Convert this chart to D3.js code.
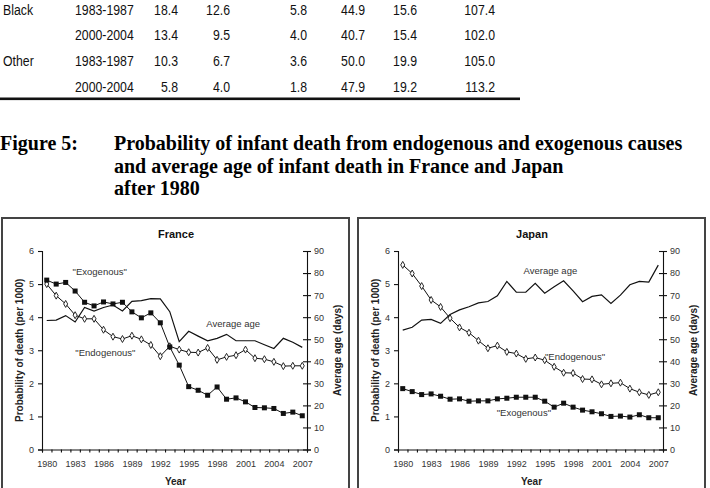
<!DOCTYPE html>
<html lang="en">
<head>
<meta charset="UTF-8">
<title>Figure 5</title>
<script src="https://d3js.org/d3.v7.min.js"></script>
<style>
  body { margin: 0; background: #fff; }
  svg { position: absolute; top: 0; left: 0; }
  .tbl { font-family: 'Liberation Sans', Arial, sans-serif; font-size: 15px; fill: #111; }
  .cap { font-family: 'Liberation Serif', 'Times New Roman', serif; font-weight: bold; font-size: 20px; fill: #000; }
  .tick text { font-family: 'Liberation Sans', Arial, sans-serif; font-size: 9px; fill: #333; }
  .ttl { font-family: 'Liberation Sans', Arial, sans-serif; font-weight: bold; font-size: 11px; fill: #111; }
  .alab { font-family: 'Liberation Sans', Arial, sans-serif; font-weight: bold; font-size: 10px; fill: #222; }
  .note { font-family: 'Liberation Sans', Arial, sans-serif; font-size: 9.5px; fill: #333; }
</style>
</head>
<body>
<script>
const width = 710;
const height = 488;

// table fragment
const tableGroups  = ["Black", "", "Other", ""];
const tablePeriods = ["1983-1987", "2000-2004", "1983-1987", "2000-2004"];
const tableValues  = [
  [18.4, 12.6, 5.8, 44.9, 15.6, 107.4],
  [13.4,  9.5, 4.0, 40.7, 15.4, 102.0],
  [10.3,  6.7, 3.6, 50.0, 19.9, 105.0],
  [ 5.8,  4.0, 1.8, 47.9, 19.2, 113.2]
];

const captionLines = [
  "Probability of infant death from endogenous and exogenous causes",
  "and average age of infant death in France and Japan",
  "after 1980"
];

// chart data
const years = d3.range(1980, 2008);
const yearLabels = [1980, 1983, 1986, 1989, 1992, 1995, 1998, 2001, 2004, 2007];
const probTicks = [0, 1, 2, 3, 4, 5, 6];
const ageTicks = [0, 10, 20, 30, 40, 50, 60, 70, 80, 90];

const franceExo  = [5.12, 5.00, 5.05, 4.79, 4.45, 4.34, 4.46, 4.40, 4.45, 4.16, 3.98, 4.13, 3.83, 3.10,
                    2.55, 1.90, 1.79, 1.64, 1.89, 1.52, 1.56, 1.44, 1.27, 1.26, 1.24, 1.09, 1.13, 1.02];
const franceEndo = [5.00, 4.65, 4.40, 4.06, 3.95, 3.95, 3.62, 3.41, 3.34, 3.44, 3.33, 3.16, 2.82, 3.12,
                    3.02, 2.94, 2.93, 3.07, 2.71, 2.80, 2.85, 3.02, 2.76, 2.73, 2.65, 2.52, 2.53, 2.53];
const franceAge  = [58.5, 58.7, 60.7, 57.8, 64.4, 62.8, 64.4, 65.5, 62.8, 67.2, 67.5, 68.4, 68.3, 62.5,
                    48.9, 53.6, 51.4, 49.3, 50.4, 52.2, 49.3, 49.3, 49.3, 47.5, 45.8, 50.4, 48.6, 46.3];

const japanExo   = [1.84, 1.75, 1.66, 1.68, 1.61, 1.52, 1.53, 1.46, 1.47, 1.47, 1.53, 1.55, 1.58, 1.58,
                    1.58, 1.46, 1.28, 1.40, 1.28, 1.19, 1.14, 1.08, 1.00, 1.01, 0.98, 1.05, 0.96, 0.96];
const japanEndo  = [5.58, 5.32, 4.94, 4.52, 4.31, 3.97, 3.69, 3.53, 3.29, 3.06, 3.14, 2.95, 2.90, 2.74,
                    2.78, 2.70, 2.50, 2.32, 2.31, 2.13, 2.12, 1.97, 2.00, 2.02, 1.84, 1.73, 1.65, 1.73];
const japanAge   = [54.1, 55.4, 58.7, 59.0, 57.2, 61.2, 63.3, 64.7, 66.5, 67.1, 69.7, 76.2, 71.3, 71.3,
                    75.3, 70.9, 73.8, 76.5, 71.9, 67.0, 69.4, 70.1, 66.2, 70.0, 74.7, 76.2, 75.9, 83.6];

const svg = d3.select("body").append("svg").attr("width", width).attr("height", height);

// ---- table (narrow sans, done with a horizontal squeeze)
const squeeze = 0.82;
const colRight = [178, 230, 307, 365, 417, 495];
const rowY = d3.scalePoint().domain(d3.range(tablePeriods.length)).range([14.5, 91.5]);
const rows = svg.selectAll("g.row").data(tableValues).join("g")
    .attr("class", "tbl")
    .attr("transform", (d, i) => `translate(0,${rowY(i)})`);
rows.append("text").attr("transform", `translate(3,0) scale(${squeeze},1)`).text((d, i) => tableGroups[i]);
rows.append("text").attr("transform", `translate(75,0) scale(${squeeze},1)`).text((d, i) => tablePeriods[i]);
rows.selectAll("text.v").data(d => d).join("text")
    .attr("class", "v")
    .attr("transform", (d, j) => `translate(${colRight[j]},0) scale(${squeeze},1)`)
    .attr("text-anchor", "end")
    .text(d => d.toFixed(1));
svg.append("rect").attr("x", 0).attr("y", 97.5).attr("width", 520).attr("height", 2.6).attr("fill", "#111");

// ---- caption
svg.append("text").attr("class", "cap").attr("x", 0).attr("y", 150).text("Figure 5:");
svg.selectAll("text.capline").data(captionLines).join("text")
    .attr("class", "cap capline")
    .attr("x", 114)
    .attr("y", (d, i) => 150 + i * 22.5)
    .text(d => d);

// ---- panels
function panel(left, title, exo, endo, age, notes) {
  const g = svg.append("g").attr("transform", `translate(${left},0)`);
  g.append("rect").attr("x", 1).attr("y", 218).attr("width", 347).attr("height", 290)
      .attr("fill", "none").attr("stroke", "#444").attr("stroke-width", 2);

  const px = 41, py = 251, pw = 265, ph = 198.5;
  const x = d3.scaleLinear().domain([1979.5, 2007.5]).range([px, px + pw]);
  const yL = d3.scaleLinear().domain([0, 6]).range([py + ph, py]);
  const yR = d3.scaleLinear().domain([0, 90]).range([py + ph, py]);

  g.append("text").attr("class", "ttl").attr("x", 175).attr("y", 238)
      .attr("text-anchor", "middle").text(title);

  const axL = g.append("g").attr("transform", `translate(${px},0)`)
      .call(d3.axisLeft(yL).tickValues(probTicks).tickSize(4).tickPadding(4).tickFormat(d3.format("d")));
  const axR = g.append("g").attr("transform", `translate(${px + pw},0)`)
      .call(d3.axisRight(yR).tickValues(ageTicks).tickSize(4).tickPadding(3).tickFormat(d3.format("d")));
  axR.selectAll(".tick line").attr("x1", -4);
  const axB = g.append("g").attr("transform", `translate(0,${py + ph})`)
      .call(d3.axisBottom(x).tickValues(d3.range(1979.5, 2008, 1)).tickSize(3).tickFormat(""));
  const axLab = g.append("g").attr("transform", `translate(0,${py + ph})`)
      .call(d3.axisBottom(x).tickValues(yearLabels).tickSize(0).tickPadding(11).tickFormat(d3.format("d")));
  axLab.select(".domain").remove();
  [axL, axR, axB].forEach(a => {
    a.selectAll(".domain, .tick line").attr("stroke", "#111").attr("stroke-width", 1.1);
  });

  g.append("text").attr("class", "alab")
      .attr("transform", `translate(${px - 19},${py + ph / 2}) rotate(-90)`)
      .attr("text-anchor", "middle").text("Probability of death (per 1000)");
  g.append("text").attr("class", "alab")
      .attr("transform", `translate(${px + pw + 34},${py + ph / 2}) rotate(-90)`)
      .attr("text-anchor", "middle").text("Average age (days)");
  g.append("text").attr("class", "alab").attr("x", px + pw / 2 + 1).attr("y", 485)
      .attr("text-anchor", "middle").text("Year");

  const lineL = d3.line().x((d, i) => x(years[i])).y(d => yL(d));
  const lineR = d3.line().x((d, i) => x(years[i])).y(d => yR(d));

  g.append("path").datum(age).attr("d", lineR)
      .attr("fill", "none").attr("stroke", "#111").attr("stroke-width", 1.2);
  g.append("path").datum(endo).attr("d", lineL)
      .attr("fill", "none").attr("stroke", "#111").attr("stroke-width", 1);
  g.append("path").datum(exo).attr("d", lineL)
      .attr("fill", "none").attr("stroke", "#111").attr("stroke-width", 1);

  const diamond = d3.symbol().type(d3.symbolDiamond).size(14);
  g.selectAll("path.endo").data(endo).join("path")
      .attr("class", "endo")
      .attr("transform", (d, i) => `translate(${x(years[i])},${yL(d)})`)
      .attr("d", diamond)
      .attr("fill", "#fff").attr("stroke", "#111").attr("stroke-width", 0.9);
  g.selectAll("rect.exo").data(exo).join("rect")
      .attr("class", "exo")
      .attr("x", (d, i) => x(years[i]) - 2.5).attr("y", d => yL(d) - 2.5)
      .attr("width", 5).attr("height", 5).attr("fill", "#111");

  g.selectAll("text.note").data(notes).join("text")
      .attr("class", "note")
      .attr("x", d => x(d.year)).attr("y", d => yL(d.v) + 3.5)
      .attr("text-anchor", "middle").text(d => d.label);
}

panel(1, "France", franceExo, franceEndo, franceAge, [
  { label: '"Exogenous"', year: 1985.6, v: 5.37 },
  { label: '"Endogenous"', year: 1986.2, v: 2.92 },
  { label: "Average age", year: 1999.7, v: 3.8 }
]);
panel(357, "Japan", japanExo, japanEndo, japanAge, [
  { label: "Average age", year: 1995.6, v: 5.42 },
  { label: '"Endogenous"', year: 1998.2, v: 2.8 },
  { label: '"Exogenous"', year: 1992.8, v: 1.12 }
]);
</script>
</body>
</html>
